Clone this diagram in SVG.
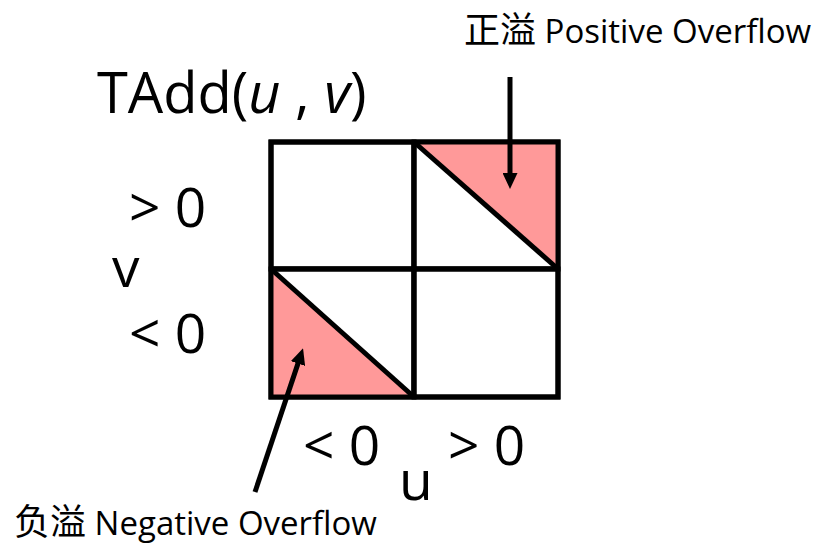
<svg xmlns="http://www.w3.org/2000/svg" width="815" height="544" viewBox="0 0 815 544">
<style>
text{font-family:"Open Sans","Noto Sans","Noto Sans CJK SC",sans-serif;fill:#000}
.big{font-size:55px}
.title{font-size:56px}
.lbl{font-size:33px}
.cjk{font-family:"Noto Sans CJK SC",sans-serif;font-size:36px}
.cell{fill:#fff;stroke:#000;stroke-width:5}
.tri{fill:#FF9999;stroke:none}
.edge{stroke:#000;stroke-width:5;fill:none}
.arrow{stroke:#000;stroke-width:5;fill:none;marker-end:url(#ah)}
</style>
<defs>
<marker id="ah" markerUnits="userSpaceOnUse" markerWidth="16" markerHeight="15" refX="7" refY="7.5" orient="auto" viewBox="0 0 16 15">
<path d="M0,0 L16,7.5 L0,15 z" fill="#000"/>
</marker>
</defs>
<rect width="815" height="544" fill="#fff"/>
<g id="title"><text class="title" x="97" y="113">TAdd(<tspan font-style="italic">u</tspan> , <tspan font-style="italic">v</tspan>)</text></g>
<g id="grid">
<rect class="cell" x="271" y="142" width="143" height="127"/>
<rect class="cell" x="414" y="142" width="144" height="127"/>
<rect class="cell" x="271" y="269" width="143" height="128"/>
<rect class="cell" x="414" y="269" width="144" height="128"/>
</g>
<g id="positive-region">
<polygon class="tri" points="414,142 558,142 558,269"/>
<line class="edge" x1="414" y1="142" x2="558" y2="269"/>
</g>
<g id="negative-region">
<polygon class="tri" points="271,269 271,397 414,397"/>
<line class="edge" x1="271" y1="269" x2="414" y2="397"/>
</g>
<g id="grid-lines">
<rect class="edge" x="271" y="142" width="287" height="255"/>
<line class="edge" x1="414" y1="142" x2="414" y2="397"/>
<line class="edge" x1="271" y1="269" x2="558" y2="269"/>
</g>
<g id="axis-labels">
<text class="big" x="129" y="227">&gt; 0</text>
<text class="big" x="112" y="287">v</text>
<text class="big" x="129" y="353">&lt; 0</text>
<text class="big" x="303" y="465">&lt; 0</text>
<text class="big" x="399" y="500">u</text>
<text class="big" x="448" y="465">&gt; 0</text>
</g>
<g id="positive-overflow-label"><text class="lbl" x="464" y="43"><tspan class="cjk">正溢</tspan> Positive Overflow</text></g>
<g id="negative-overflow-label"><text class="lbl" x="14" y="535"><tspan class="cjk">负溢</tspan> Negative Overflow</text></g>
<g id="connectors">
<line class="arrow" x1="510" y1="77" x2="510" y2="180"/>
<line class="arrow" x1="255" y1="492" x2="300.2" y2="356.9"/>
</g>
</svg>
